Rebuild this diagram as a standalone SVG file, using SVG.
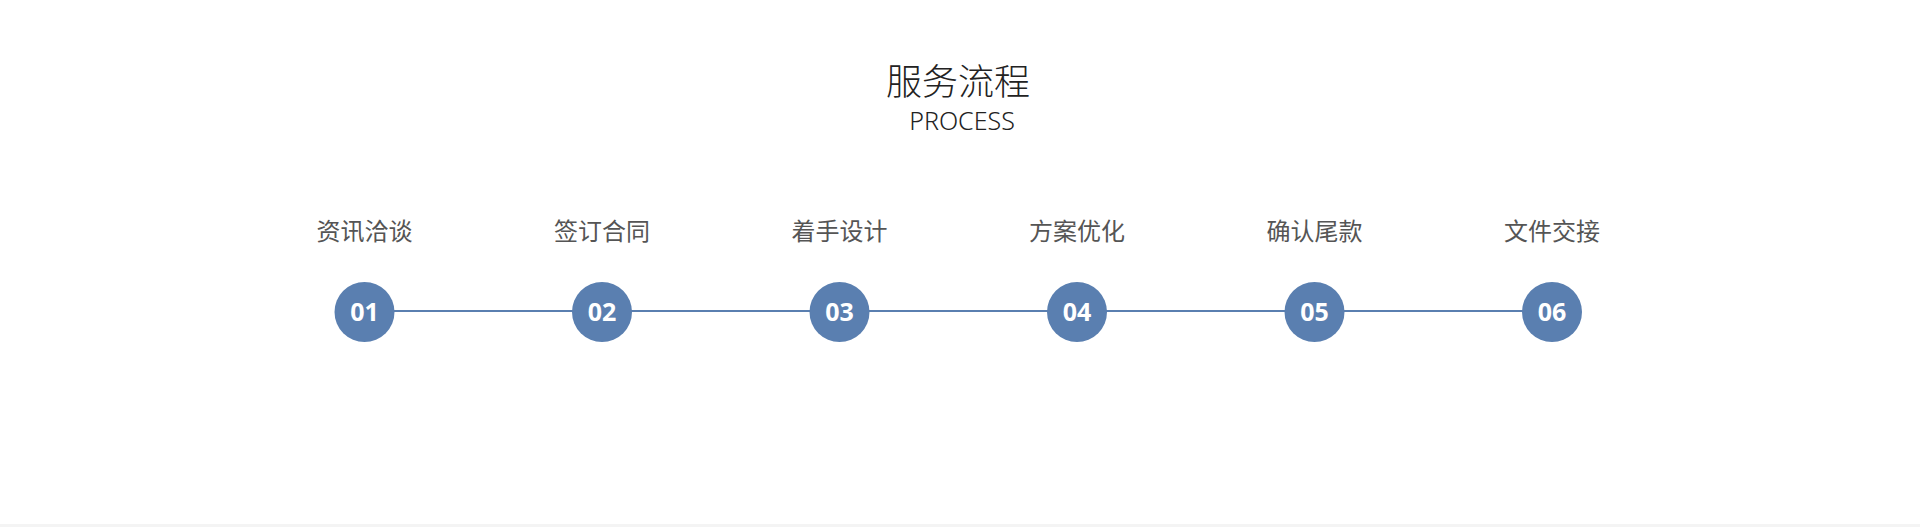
<svg xmlns="http://www.w3.org/2000/svg" width="1920" height="527" viewBox="0 0 1920 527">
<style>
.title{font-family:"Noto Sans CJK SC","Noto Sans",sans-serif;font-weight:300;font-size:36px;fill:#222;text-anchor:middle}
.sub{font-family:"Noto Sans","Noto Sans CJK SC",sans-serif;font-weight:300;font-size:25px;fill:#222;text-anchor:middle}
.lbl{font-family:"Noto Sans CJK SC",sans-serif;font-size:24px;fill:#555;text-anchor:middle}
.num{font-family:"Open Sans","Noto Sans",sans-serif;font-weight:700;font-size:25px;fill:#fff;text-anchor:middle}
.dot{fill:#5a7fb0}
</style>
<rect width="1920" height="527" fill="#fff"/>
<rect x="0" y="524" width="1920" height="3" fill="#f4f4f4"/>
<text class="title" x="958" y="95">服务流程</text>
<text class="sub" x="962" y="130">PROCESS</text>
<g id="connectors" stroke="#5a7fb0" stroke-width="2">
<line x1="365" y1="311" x2="1552.5" y2="311"/>
</g>
<g id="n1"><text class="lbl" x="364.5" y="240">资讯洽谈</text><circle class="dot" cx="364.5" cy="312" r="30"/><text class="num" x="364.5" y="321">01</text></g>
<g id="n2"><text class="lbl" x="602" y="240">签订合同</text><circle class="dot" cx="602" cy="312" r="30"/><text class="num" x="602" y="321">02</text></g>
<g id="n3"><text class="lbl" x="839.5" y="240">着手设计</text><circle class="dot" cx="839.5" cy="312" r="30"/><text class="num" x="839.5" y="321">03</text></g>
<g id="n4"><text class="lbl" x="1077" y="240">方案优化</text><circle class="dot" cx="1077" cy="312" r="30"/><text class="num" x="1077" y="321">04</text></g>
<g id="n5"><text class="lbl" x="1314.5" y="240">确认尾款</text><circle class="dot" cx="1314.5" cy="312" r="30"/><text class="num" x="1314.5" y="321">05</text></g>
<g id="n6"><text class="lbl" x="1552" y="240">文件交接</text><circle class="dot" cx="1552" cy="312" r="30"/><text class="num" x="1552" y="321">06</text></g>
</svg>
